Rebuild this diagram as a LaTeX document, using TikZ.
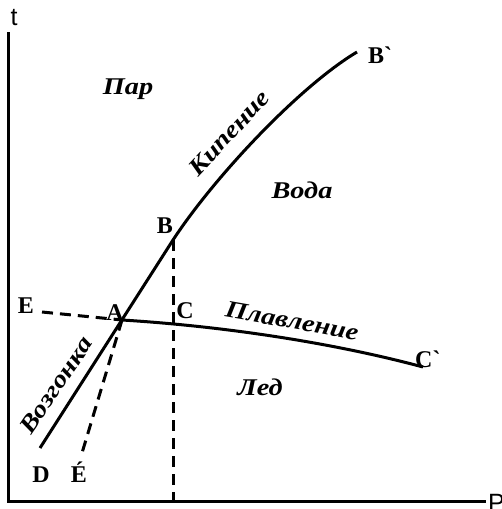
\documentclass[tikz,border=0pt]{standalone}
\usepackage{fontspec}
\setmainfont{Liberation Serif}
\newfontfamily\axisfont{Liberation Sans}
\newfontfamily\regfont[FakeStretch=1.18]{Liberation Serif}
\begin{document}
\begin{tikzpicture}[x=1pt,y=-1pt,
  ln/.style={line width=3pt},
  dsh/.style={line width=3pt,dash pattern=on 11pt off 7pt},
  pt/.style={font=\fontsize{24}{24}\selectfont\bfseries,inner sep=0pt,anchor=base},
  reg/.style={font=\fontsize{24}{24}\selectfont\regfont\bfseries\itshape,inner sep=0pt},
  ax/.style={font=\fontsize{25}{25}\selectfont\axisfont,inner sep=0pt}]
\useasboundingbox (0,0) rectangle (501,509);
% key points
\coordinate (O) at (8,501);
\coordinate (Ttop) at (8,32);
\coordinate (Pend) at (486,501);
\coordinate (A) at (122,320);
\coordinate (B) at (173,240);
\coordinate (Bp) at (357,52);
\coordinate (C) at (173,324);
\coordinate (Cp) at (423,367);
\coordinate (D) at (40,448);
\coordinate (E) at (42,312);
\coordinate (Ep) at (82,453);
\coordinate (Pb) at (173,501);
% axes
\draw[ln] (Ttop) -- (O) -- (Pend);
% boiling / sublimation
\draw[ln] (D) -- (B) .. controls (215,176) and (300,86) .. (Bp);
% melting
\draw[ln] (A) .. controls (220,326) and (330,342) .. (Cp);
% dashed lines
\draw[dsh] (E) -- (A);
\draw[dsh] (A) -- (Ep);
\draw[dsh] (B) -- (Pb);
% axis labels
\node[ax] (tl) at (14,18) {t};
\node[ax,anchor=west] (pl) at (488,503) {P};
% point labels
\node[pt] (Al) at (115,320) {A};
\node[pt] (Bl) at (165,233) {B};
\node[pt] (Cl) at (185,318) {C};
\node[pt,anchor=base west] (Bpl) at (368,63) {B\textasciigrave};
\node[pt,anchor=base west] (Cpl) at (415,367) {C\textasciigrave};
\node[pt] (Dl) at (41,482) {D};
\node[pt] (El) at (26,313) {E};
\node[pt] (Epl) at (79,482) {É};
% region labels
\node[reg] (par) at (128,89) {Пар};
\node[reg] (voda) at (302,190) {Вода};
\node[reg] (led) at (260,387) {Лед};
\node[reg,rotate=47] (kip) at (229,133) {Кипение};
\node[reg,rotate=-10] (plav) at (292,321) {Плавление};
\node[reg,rotate=56] (vozg) at (56,385) {Возгонка};
\end{tikzpicture}
\end{document}
